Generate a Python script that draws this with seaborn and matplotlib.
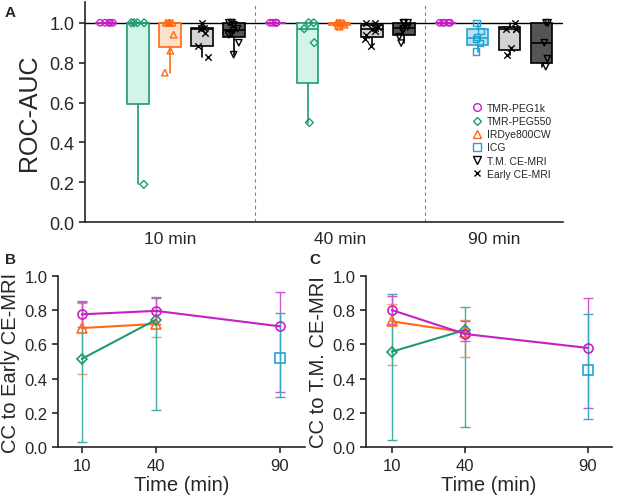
import numpy as np
import pandas as pd
import matplotlib
matplotlib.use("Agg")
import matplotlib.pyplot as plt
from matplotlib.lines import Line2D
import seaborn as sns

# ---- Panel A: ROC-AUC per agent and imaging time ----
times_a = ["10 min", "40 min", "90 min"]
agents = ["TMR-PEG1k", "TMR-PEG550", "IRDye800CW", "ICG", "T.M. CE-MRI", "Early CE-MRI"]
box_order = ["TMR-PEG1k", "TMR-PEG550", "IRDye800CW", "ICG", "Early CE-MRI", "T.M. CE-MRI"]

auc_peg1k = {"10 min": [1.0, 1.0, 1.0, 1.0, 1.0],
             "40 min": [1.0, 1.0, 1.0, 1.0, 1.0],
             "90 min": [1.0, 1.0, 1.0, 1.0, 1.0]}
auc_peg550 = {"10 min": [0.19, 1.0, 1.0, 1.0, 1.0],
              "40 min": [0.50, 0.90, 0.97, 1.0, 1.0]}
auc_irdye = {"10 min": [0.75, 0.86, 0.94, 1.0, 1.0, 1.0, 1.0, 1.0],
             "40 min": [0.98, 0.985, 0.99, 1.0, 1.0, 1.0, 1.0, 1.0]}
auc_icg = {"90 min": [0.855, 0.90, 0.92, 0.93, 0.96, 1.0]}
auc_early = {"10 min": [0.83, 0.885, 0.95, 0.97, 0.975, 0.975, 1.0],
             "40 min": [0.886, 0.92, 0.94, 0.96, 0.97, 0.975, 0.98, 1.0, 1.0],
             "90 min": [0.836, 0.875, 0.97, 0.97, 0.97, 1.0]}
auc_tm = {"10 min": [0.84, 0.90, 0.94, 0.945, 0.96, 0.97, 0.99, 1.0, 1.0, 1.0],
          "40 min": [0.898, 0.93, 0.96, 0.97, 0.98, 1.0, 1.0, 1.0],
          "90 min": [0.78, 0.82, 0.90, 1.0, 1.0]}

# ---- Panels B / C: mean correlation coefficient with error bar limits ----
times_bc = [10, 40, 90]
# B: CC to Early CE-MRI
b_peg1k_mean, b_peg1k_low, b_peg1k_high = [0.775, 0.795, 0.705], [0.70, 0.72, 0.324], [0.848, 0.874, 0.903]
b_peg550_mean, b_peg550_low, b_peg550_high = [0.515, 0.744], [0.033, 0.219], [0.851, 0.87]
b_irdye_mean, b_irdye_low, b_irdye_high = [0.695, 0.719], [0.427, 0.641], [0.84, 0.80]
b_icg_mean, b_icg_low, b_icg_high = [0.52], [0.291], [0.781]
# C: CC to T.M. CE-MRI
c_peg1k_mean, c_peg1k_low, c_peg1k_high = [0.80, 0.66, 0.579], [0.72, 0.62, 0.227], [0.88, 0.738, 0.868]
c_peg550_mean, c_peg550_low, c_peg550_high = [0.557, 0.684], [0.043, 0.12], [0.893, 0.816]
c_irdye_mean, c_irdye_low, c_irdye_high = [0.734, 0.67], [0.478, 0.526], [0.835, 0.74]
c_icg_mean, c_icg_low, c_icg_high = [0.452], [0.165], [0.777]

# ---- styles ----
line_col = {"TMR-PEG1k": "#c81ec8", "TMR-PEG550": "#1e9b6e", "IRDye800CW": "#ff6a13",
            "ICG": "#22a3cf", "T.M. CE-MRI": "black", "Early CE-MRI": "black"}
err_col = {"TMR-PEG1k": "#d055d0", "TMR-PEG550": "#3fb0a0", "IRDye800CW": "#f79a55", "ICG": "#3aa8c8"}
fill_col = {"TMR-PEG1k": "#f3c8f3", "TMR-PEG550": "#d3f5e7", "IRDye800CW": "#fde1cb",
            "ICG": "#b9e2f3", "T.M. CE-MRI": "#555555", "Early CE-MRI": "#d3d3d3"}
marker = {"TMR-PEG1k": "o", "TMR-PEG550": "D", "IRDye800CW": "^", "ICG": "s",
          "T.M. CE-MRI": "v", "Early CE-MRI": "x"}
SECTION_STEP = 5.31
BOX_W = 0.66
JITTER = 0.22

sns.set_style("ticks")
plt.rcParams["font.family"] = ["Liberation Sans", "DejaVu Sans"]
plt.rcParams["axes.linewidth"] = 1.2
np.random.seed(7)

# long table for panel A with slot positions
auc_by_agent = {"TMR-PEG1k": auc_peg1k, "TMR-PEG550": auc_peg550, "IRDye800CW": auc_irdye,
                "ICG": auc_icg, "Early CE-MRI": auc_early, "T.M. CE-MRI": auc_tm}
rows = []
for s, t in enumerate(times_a):
    present = [a for a in box_order if t in auc_by_agent[a]]
    for i, a in enumerate(present):
        for v in auc_by_agent[a][t]:
            rows.append({"time": t, "agent": a, "pos": s * SECTION_STEP + i, "auc": v})
df_a = pd.DataFrame(rows)

fig = plt.figure(figsize=(6.17, 5.02), dpi=100)
ax_a = fig.add_axes([85 / 617, 1 - 223.3 / 502, 478 / 617, 220.3 / 502])
ax_b = fig.add_axes([58 / 617, 1 - 448.3 / 502, 247 / 617, 171.6 / 502])
ax_c = fig.add_axes([366 / 617, 1 - 448.3 / 502, 246 / 617, 171.6 / 502])

# boxes (GraphPad style quartiles, whiskers min to max)
for a in box_order:
    sub = df_a[df_a.agent == a]
    stats, pos = [], []
    for p, g in sub.groupby("pos"):
        q1, med, q3 = np.percentile(g.auc, [25, 50, 75], method="weibull")
        stats.append(dict(med=med, q1=q1, q3=q3, whislo=g.auc.min(), whishi=g.auc.max(), fliers=[]))
        pos.append(p)
    ax_a.bxp(stats, positions=pos, widths=BOX_W, patch_artist=True, showcaps=False,
             showfliers=False, manage_ticks=False,
             boxprops=dict(facecolor=fill_col[a], edgecolor=line_col[a], linewidth=1.2),
             whiskerprops=dict(color=line_col[a], linewidth=1.2),
             medianprops=dict(color=line_col[a], linewidth=1.2))

ax_a.axhline(1.0, color="black", lw=1.0, zorder=1.5)
for s in range(2):
    ax_a.axvline(s * SECTION_STEP + 4 + (SECTION_STEP - 4) / 2, color="gray", lw=0.8,
                 ls=(0, (3, 3)), zorder=0)

for a in box_order:
    sub = df_a[df_a.agent == a]
    u = np.unique(sub.pos)
    native_w = np.diff(u).min() if len(u) > 1 else 1.0
    kw = dict(data=sub, x="pos", y="auc", native_scale=True, orient="x", ax=ax_a,
              legend=False, size=4.6, marker=marker[a], linewidth=1.0,
              jitter=JITTER / native_w)
    if a == "TMR-PEG550":
        kw["size"] = 4.0
    if a == "Early CE-MRI":
        sns.stripplot(color="black", **kw)
    else:
        sns.stripplot(color=line_col[a], edgecolor=line_col[a], facecolors="none", **kw)

ax_a.set_xlim(-0.656, 14.28)
ax_a.set_ylim(0, 1.104)
ax_a.set_yticks(np.arange(0, 1.01, 0.2))
ax_a.set_yticklabels([f"{v:.1f}" for v in np.arange(0, 1.01, 0.2)], fontsize=13)
ax_a.set_xticks([2, SECTION_STEP + 2, 2 * SECTION_STEP + 1.5])
ax_a.set_xticklabels(times_a, fontsize=12.5)
ax_a.tick_params(axis="x", length=0, pad=6)
ax_a.tick_params(axis="y", length=4, width=1.2)
ax_a.set_xlabel("")
ax_a.set_ylabel("ROC-AUC", fontsize=18, labelpad=6)
sns.despine(ax=ax_a)

handles = []
for a in agents:
    if a == "Early CE-MRI":
        h = Line2D([], [], ls="", marker="x", color="black", ms=4.5, mew=1.0)
    else:
        h = Line2D([], [], ls="", marker=marker[a], mfc="none", mec=line_col[a],
                   ms=4.5 if a == "TMR-PEG550" else 5.5, mew=1.0)
    handles.append(h)
ax_a.legend(handles, agents, loc="upper left", bbox_to_anchor=(0.80, 0.56), frameon=False,
            fontsize=7.5, handlelength=1.0, handletextpad=0.5, labelspacing=0.3, borderaxespad=0)

# panels B and C
panel_data = {
    ax_b: {"TMR-PEG1k": (b_peg1k_mean, b_peg1k_low, b_peg1k_high),
           "TMR-PEG550": (b_peg550_mean, b_peg550_low, b_peg550_high),
           "IRDye800CW": (b_irdye_mean, b_irdye_low, b_irdye_high),
           "ICG": (b_icg_mean, b_icg_low, b_icg_high)},
    ax_c: {"TMR-PEG1k": (c_peg1k_mean, c_peg1k_low, c_peg1k_high),
           "TMR-PEG550": (c_peg550_mean, c_peg550_low, c_peg550_high),
           "IRDye800CW": (c_irdye_mean, c_irdye_low, c_irdye_high),
           "ICG": (c_icg_mean, c_icg_low, c_icg_high)},
}
for ax, series in panel_data.items():
    for a in ["IRDye800CW", "TMR-PEG550", "TMR-PEG1k", "ICG"]:
        mean, low, high = series[a]
        t = times_bc[-len(mean):] if a == "ICG" else times_bc[:len(mean)]
        d = pd.DataFrame({"time": t, "mean": mean, "low": low, "high": high})
        ax.errorbar(d.time, d["mean"], yerr=[d["mean"] - d.low, d.high - d["mean"]], fmt="none",
                    ecolor=err_col[a], elinewidth=1.0, capsize=3.5, capthick=1.0, zorder=1)
        sns.lineplot(data=d, x="time", y="mean", color=line_col[a], marker=marker[a],
                     markersize=6.5 if a != "TMR-PEG550" else 5, markerfacecolor="none",
                     markeredgecolor=line_col[a], markeredgewidth=1.2, lw=1.5,
                     errorbar=None, legend=False, ax=ax, zorder=3)
    ax.set_ylim(0, 1.0)
    ax.set_yticks(np.arange(0, 1.01, 0.2))
    ax.set_yticklabels([f"{v:.1f}" for v in np.arange(0, 1.01, 0.2)], fontsize=12)
    ax.set_xticks(times_bc)
    ax.set_xticklabels([str(t) for t in times_bc], fontsize=12)
    ax.tick_params(length=4, width=1.2)
    ax.set_xlabel("Time (min)", fontsize=14.5, labelpad=2)
    sns.despine(ax=ax)

ax_b.set_xlim(0.4, 100.2)
ax_c.set_xlim(-0.5, 99.8)
ax_b.set_ylabel("CC to Early CE-MRI", fontsize=14.5, labelpad=3)
ax_c.set_ylabel("CC to T.M. CE-MRI", fontsize=14.5, labelpad=3)

fig.text(5 / 617, 1 - 6 / 502, "A", fontsize=11, fontweight="bold", va="top")
fig.text(5 / 617, 1 - 253 / 502, "B", fontsize=11, fontweight="bold", va="top")
fig.text(309 / 617, 1 - 253 / 502, "C", fontsize=11, fontweight="bold", va="top")

fig.savefig("out.png", dpi=100)
